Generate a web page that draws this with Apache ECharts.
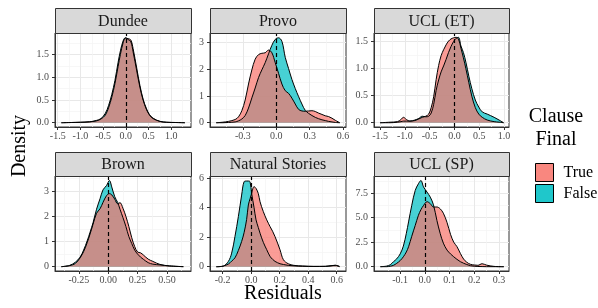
<!DOCTYPE html>
<html>
<head>
<meta charset="utf-8">
<script src="https://cdn.jsdelivr.net/npm/echarts@6/dist/echarts.min.js"></script>
<style>
    html, body { margin: 0; padding: 0; background: #fff; }
    #chart { width: 598px; height: 308px; }
</style>
</head>
<body>
<div id="chart"></div>
<script>

var panel_names = ['Dundee', 'Provo', 'UCL (ET)', 'Brown', 'Natural Stories', 'UCL (SP)'];

// residual grid + density per clause position
var dundee_x = [-1.42, -1.2, -1.0, -0.8, -0.65, -0.55, -0.45, -0.38, -0.31, -0.24, -0.17, -0.12, -0.06, -0.01, 0.05, 0.11, 0.16, 0.24, 0.31, 0.38, 0.45, 0.52, 0.6, 0.75, 0.9, 1.1, 1.3];
var dundee_true = [0, 0.005, 0.01, 0.02, 0.04, 0.08, 0.17, 0.33, 0.56, 0.86, 1.24, 1.5, 1.76, 1.86, 1.85, 1.82, 1.63, 1.2, 0.82, 0.52, 0.32, 0.18, 0.1, 0.03, 0.01, 0.005, 0];
var dundee_false = [0, 0.005, 0.01, 0.02, 0.05, 0.09, 0.21, 0.38, 0.62, 0.93, 1.33, 1.58, 1.8, 1.87, 1.83, 1.78, 1.56, 1.14, 0.78, 0.5, 0.3, 0.17, 0.09, 0.03, 0.01, 0.005, 0];

var provo_x = [-0.54, -0.48, -0.43, -0.37, -0.34, -0.31, -0.28, -0.25, -0.22, -0.19, -0.16, -0.13, -0.1, -0.07, -0.04, -0.01, 0.02, 0.05, 0.08, 0.11, 0.14, 0.17, 0.2, 0.23, 0.26, 0.29, 0.32, 0.35, 0.38, 0.41, 0.44, 0.47, 0.5, 0.53, 0.57];
var provo_true = [0, 0.02, 0.05, 0.12, 0.22, 0.45, 0.85, 1.45, 1.98, 2.38, 2.55, 2.6, 2.62, 2.72, 2.62, 2.25, 1.85, 1.45, 1.2, 1.1, 0.92, 0.7, 0.5, 0.44, 0.43, 0.44, 0.45, 0.42, 0.36, 0.31, 0.26, 0.23, 0.17, 0.09, 0];
var provo_false = [0, 0, 0.01, 0.03, 0.07, 0.14, 0.27, 0.55, 0.93, 1.3, 1.69, 1.98, 2.25, 2.58, 2.9, 3.12, 3.18, 3.05, 2.45, 2.03, 1.62, 1.28, 0.98, 0.7, 0.46, 0.35, 0.27, 0.2, 0.15, 0.11, 0.08, 0.05, 0.03, 0.01, 0];

var ucl_et_x = [-1.5, -1.3, -1.15, -1.08, -1.03, -0.97, -0.9, -0.8, -0.72, -0.65, -0.58, -0.52, -0.47, -0.42, -0.37, -0.32, -0.27, -0.22, -0.17, -0.12, -0.07, -0.02, 0.03, 0.08, 0.13, 0.18, 0.23, 0.29, 0.35, 0.42, 0.49, 0.56, 0.66, 0.8, 0.9, 0.99];
var ucl_et_true = [0, 0.01, 0.02, 0.06, 0.1, 0.06, 0.03, 0.04, 0.07, 0.1, 0.12, 0.16, 0.28, 0.48, 0.8, 1.06, 1.24, 1.35, 1.44, 1.51, 1.55, 1.57, 1.58, 1.55, 1.38, 1.2, 1.0, 0.74, 0.49, 0.28, 0.16, 0.1, 0.05, 0.02, 0.01, 0];
var ucl_et_false = [0, 0, 0.01, 0.02, 0.03, 0.03, 0.03, 0.05, 0.08, 0.12, 0.11, 0.12, 0.18, 0.34, 0.6, 0.79, 0.94, 1.05, 1.17, 1.3, 1.41, 1.5, 1.56, 1.58, 1.42, 1.3, 1.12, 0.86, 0.63, 0.42, 0.29, 0.2, 0.16, 0.1, 0.05, 0];

var brown_x = [-0.4, -0.33, -0.28, -0.24, -0.21, -0.18, -0.155, -0.13, -0.1, -0.07, -0.045, -0.015, 0.01, 0.03, 0.055, 0.08, 0.1, 0.125, 0.15, 0.175, 0.2, 0.225, 0.25, 0.275, 0.3, 0.34, 0.38, 0.44, 0.52, 0.64];
var brown_true = [0, 0.04, 0.13, 0.35, 0.6, 0.95, 1.3, 1.68, 2.12, 2.3, 2.55, 2.82, 2.9, 2.85, 2.68, 2.5, 2.54, 2.32, 2.0, 1.6, 1.15, 0.8, 0.58, 0.55, 0.46, 0.3, 0.21, 0.09, 0.03, 0];
var brown_false = [0, 0.05, 0.18, 0.38, 0.66, 1.02, 1.37, 1.74, 2.28, 2.7, 3.05, 3.22, 3.42, 3.16, 2.78, 2.55, 2.28, 1.95, 1.6, 1.2, 0.92, 0.66, 0.5, 0.38, 0.29, 0.16, 0.1, 0.07, 0.03, 0];

var ns_x = [-0.245, -0.22, -0.195, -0.16, -0.137, -0.114, -0.09, -0.067, -0.05, -0.032, -0.02, -0.008, 0.003, 0.02, 0.034, 0.05, 0.062, 0.085, 0.109, 0.132, 0.15, 0.167, 0.185, 0.202, 0.226, 0.26, 0.3, 0.36, 0.44, 0.52, 0.56, 0.59, 0.62];
var ns_true = [0, 0.01, 0.05, 0.18, 0.38, 0.6, 1.1, 1.71, 2.3, 3.2, 4.18, 4.6, 4.97, 5.42, 5.3, 4.95, 4.4, 3.73, 3.17, 2.72, 2.4, 2.04, 1.6, 1.15, 0.47, 0.2, 0.09, 0.05, 0.02, 0.02, 0.06, 0.1, 0];
var ns_false = [0, 0.01, 0.04, 0.36, 0.92, 2.04, 3.39, 4.85, 5.75, 5.8, 5.8, 5.75, 4.97, 4.0, 3.17, 2.65, 2.27, 1.65, 1.15, 0.7, 0.5, 0.36, 0.27, 0.2, 0.15, 0.09, 0.06, 0.03, 0.02, 0.03, 0.07, 0.09, 0.02];

var ucl_sp_x = [-0.18, -0.155, -0.14, -0.127, -0.114, -0.1, -0.087, -0.075, -0.066, -0.053, -0.039, -0.026, -0.016, -0.005, 0.009, 0.022, 0.035, 0.049, 0.062, 0.075, 0.09, 0.104, 0.117, 0.13, 0.144, 0.157, 0.17, 0.185, 0.2, 0.215, 0.232, 0.25, 0.28, 0.32];
var ucl_sp_true = [0, 0, 0.05, 0.14, 0.34, 0.62, 1.01, 1.5, 2.03, 3.1, 4.2, 5.24, 5.8, 6.25, 6.62, 6.42, 6.08, 6.08, 5.9, 5.45, 4.5, 3.3, 2.5, 2.05, 1.35, 0.78, 0.45, 0.24, 0.17, 0.14, 0.3, 0.16, 0.03, 0];
var ucl_sp_false = [0, 0.06, 0.2, 0.51, 0.8, 1.3, 2.1, 3.4, 4.56, 6.25, 7.77, 8.45, 8.78, 8.11, 7.6, 7.09, 6.3, 4.7, 3.4, 2.4, 1.69, 1.3, 1.01, 0.75, 0.51, 0.35, 0.22, 0.1, 0.05, 0.02, 0.01, 0, 0, 0];

var panel_x = [dundee_x, provo_x, ucl_et_x, brown_x, ns_x, ucl_sp_x];
var panel_true = [dundee_true, provo_true, ucl_et_true, brown_true, ns_true, ucl_sp_true];
var panel_false = [dundee_false, provo_false, ucl_et_false, brown_false, ns_false, ucl_sp_false];

// tick labels
var x_ticks = [[-1.5, -1, -0.5, 0, 0.5, 1], [-0.3, 0, 0.3, 0.6], [-1.5, -1, -0.5, 0, 0.5, 1], [-0.25, 0, 0.25, 0.5], [-0.2, 0, 0.2, 0.4, 0.6], [-0.1, 0, 0.1, 0.2, 0.3]];
var x_digits = [1, 1, 1, 2, 1, 1];
var y_ticks = [[0, 0.5, 1, 1.5], [0, 1, 2, 3], [0, 0.5, 1, 1.5], [0, 1, 2, 3], [0, 2, 4, 6], [0, 2.5, 5, 7.5]];
var y_digits = [1, 0, 1, 0, 0, 1];

$ready(draw_chart);

function $ready(fn) {
    if (document.readyState !== 'loading') fn();
    else document.addEventListener('DOMContentLoaded', fn);
}

function pairs(xs, ys) {
    return xs.map(function (x, i) { return [x, ys[i]]; });
}

function minor_ticks(ticks, lim) {
    var step = ticks[1] - ticks[0], out = [];
    for (var v = ticks[0] - step / 2; v <= lim[1]; v += step) {
        if (v >= lim[0]) out.push(+v.toFixed(4));
    }
    return out;
}

function draw_chart() {

    var font = 'Liberation Serif';
    var true_fill = '#F8766D', false_fill = '#00BFC4', fill_alpha = 0.72;

    // panel scale limits (ggplot expanded ranges)
    var x_limits = [[-1.56, 1.435], [-0.596, 0.626], [-1.624, 1.10], [-0.454, 0.705], [-0.289, 0.665], [-0.206, 0.341]];
    var y_limits = [[-0.094, 1.974], [-0.16, 3.36], [-0.079, 1.66], [-0.172, 3.6], [-0.29, 6.14], [-0.44, 9.24]];

    // left, top, width, height of each panel
    var boxes = [[55, 33, 136, 94], [210, 33, 136, 94], [374, 33, 135, 94],
                 [55, 176, 136, 95], [210, 176, 136, 95], [374, 176, 135, 95]];

    var grids = [], xAxes = [], yAxes = [], series = [], graphics = [];

    for (var i = 0; i < 6; i++) {
        var b = boxes[i];
        grids.push({
            left: b[0], top: b[1], width: b[2], height: b[3],
            show: true, backgroundColor: '#fff', borderColor: '#333', borderWidth: 1
        });
    }

    // major axes
    for (var i = 0; i < 6; i++) {
        (function (i) {
            xAxes.push({
                type: 'value', gridIndex: i, min: x_limits[i][0], max: x_limits[i][1], position: 'bottom',
                axisLine: { show: true, onZero: false, lineStyle: { color: '#333', width: 1 } },
                axisTick: { show: true, length: 3, lineStyle: { color: '#333' }, customValues: x_ticks[i] },
                axisLabel: {
                    customValues: x_ticks[i], color: '#4d4d4d', fontFamily: font, fontSize: 10, margin: 4,
                    formatter: function (v) { return v.toFixed(x_digits[i]); }
                },
                splitLine: { show: true, lineStyle: { color: '#e8e8e8', width: 1 } }
            });
            yAxes.push({
                type: 'value', gridIndex: i, min: y_limits[i][0], max: y_limits[i][1], position: 'left',
                axisLine: { show: true, onZero: false, lineStyle: { color: '#333', width: 1 } },
                axisTick: { show: true, length: 3, lineStyle: { color: '#333' }, customValues: y_ticks[i] },
                axisLabel: {
                    customValues: y_ticks[i], color: '#4d4d4d', fontFamily: font, fontSize: 10, margin: 6,
                    formatter: function (v) { return v.toFixed(y_digits[i]); }
                },
                splitLine: { show: true, lineStyle: { color: '#e8e8e8', width: 1 } }
            });
        })(i);
    }

    // minor grid lines
    for (var i = 0; i < 6; i++) {
        xAxes.push({
            type: 'value', gridIndex: i, min: x_limits[i][0], max: x_limits[i][1], position: 'top',
            axisLine: { show: false }, axisLabel: { show: false },
            axisTick: { show: false, customValues: minor_ticks(x_ticks[i], x_limits[i]) },
            splitLine: { show: true, lineStyle: { color: '#f3f3f3', width: 0.7 } }
        });
        yAxes.push({
            type: 'value', gridIndex: i, min: y_limits[i][0], max: y_limits[i][1], position: 'right',
            axisLine: { show: false }, axisLabel: { show: false },
            axisTick: { show: false, customValues: minor_ticks(y_ticks[i], y_limits[i]) },
            splitLine: { show: true, lineStyle: { color: '#f3f3f3', width: 0.7 } }
        });
    }

    for (var i = 0; i < 6; i++) {
        series.push({
            name: 'False', type: 'line', xAxisIndex: i, yAxisIndex: i,
            data: pairs(panel_x[i], panel_false[i]),
            smooth: 0.35, showSymbol: false, silent: true,
            itemStyle: { color: false_fill },
            lineStyle: { color: '#000', width: 1 },
            areaStyle: { color: false_fill, opacity: fill_alpha }
        });
        series.push({
            name: 'True', type: 'line', xAxisIndex: i, yAxisIndex: i,
            data: pairs(panel_x[i], panel_true[i]),
            smooth: 0.35, showSymbol: false, silent: true,
            itemStyle: { color: true_fill },
            lineStyle: { color: '#000', width: 1 },
            areaStyle: { color: true_fill, opacity: fill_alpha },
            markLine: {
                silent: true, symbol: ['none', 'none'], label: { show: false },
                lineStyle: { color: '#000', type: [4, 3], width: 1.2 },
                data: [{ xAxis: 0 }]
            }
        });
    }

    // facet strips
    for (var i = 0; i < 6; i++) {
        var b = boxes[i];
        var top = i < 3 ? 8 : 152;
        graphics.push({
            type: 'rect', shape: { x: b[0] + 0.5, y: top + 0.5, width: b[2], height: b[1] - top },
            style: { fill: '#d9d9d9', stroke: '#333', lineWidth: 1 }, z: 10
        });
        graphics.push({
            type: 'text', x: b[0] + b[2] / 2, y: top + (b[1] - top) / 2 + 1, z: 11,
            style: { text: panel_names[i], font: '16px ' + font, fill: '#1a1a1a', align: 'center', verticalAlign: 'middle' }
        });
    }

    graphics.push({
        type: 'text', x: 20, y: 146, rotation: Math.PI / 2,
        style: { text: 'Density', font: '20px ' + font, fill: '#000', align: 'center', verticalAlign: 'middle' }
    });
    graphics.push({
        type: 'text', x: 283, y: 294,
        style: { text: 'Residuals', font: '20px ' + font, fill: '#000', align: 'center', verticalAlign: 'middle' }
    });
    graphics.push({
        type: 'text', x: 556, y: 117,
        style: { text: 'Clause', font: '20px ' + font, fill: '#000', align: 'center', verticalAlign: 'middle' }
    });
    graphics.push({
        type: 'text', x: 556, y: 140,
        style: { text: 'Final', font: '20px ' + font, fill: '#000', align: 'center', verticalAlign: 'middle' }
    });

    var myChart = echarts.init(document.getElementById('chart'), null, { renderer: 'canvas' });

    var option = {
        animation: false,
        backgroundColor: '#fff',
        textStyle: { fontFamily: font },
        grid: grids,
        xAxis: xAxes,
        yAxis: yAxes,
        legend: {
            orient: 'vertical', left: 530, top: 158,
            itemWidth: 18, itemHeight: 18, itemGap: 2,
            icon: 'rect', selectedMode: false,
            itemStyle: { borderColor: '#000', borderWidth: 1 },
            textStyle: { fontFamily: font, fontSize: 16, color: '#000', padding: [0, 0, 0, 5] },
            data: [
                { name: 'True', itemStyle: { color: 'rgba(248,118,109,0.88)' } },
                { name: 'False', itemStyle: { color: 'rgba(0,191,196,0.88)' } }
            ]
        },
        graphic: graphics,
        series: series
    };

    myChart.setOption(option);
}

</script>
</body>
</html>
